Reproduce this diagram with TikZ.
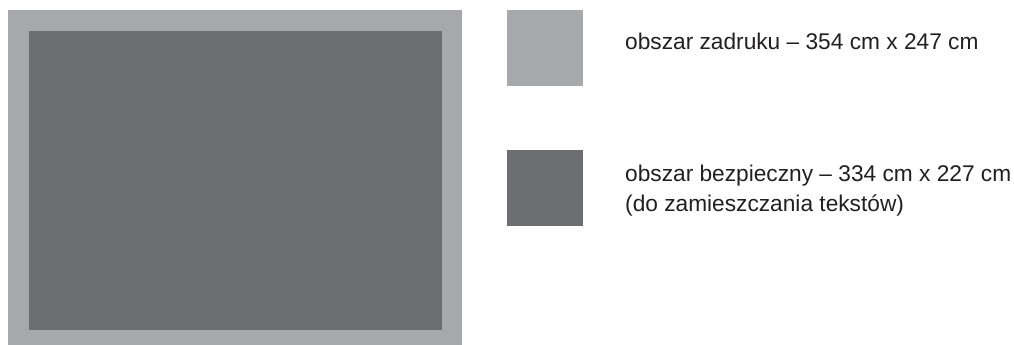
\documentclass[tikz,border=0pt]{standalone}
\usepackage{fontspec}
\setmainfont{Liberation Sans}
\usetikzlibrary{positioning}
\definecolor{printgray}{RGB}{167,168,172}
\definecolor{safegray}{RGB}{109,110,114}
\definecolor{textblack}{RGB}{35,31,32}
\tikzset{
  printarea/.style={fill=printgray, draw=none, inner sep=0pt},
  safearea/.style={fill=safegray, draw=none, inner sep=0pt},
  keybox/.style={minimum width=76pt, minimum height=76pt, inner sep=0pt},
  keytext/.style={anchor=base west, align=left, text=textblack, inner sep=0pt,
    font=\fontsize{22.7}{30}\selectfont}
}
\begin{document}
\begin{tikzpicture}[x=1pt, y=-1pt]
\useasboundingbox (0,0) rectangle (1014,345);
% plan
\node[printarea, minimum width=454pt, minimum height=335pt] (print) at (235,177.5) {};
\node[safearea, minimum width=413pt, minimum height=299pt] (safe) at (235.5,180.5) {};
% legend
\node[printarea, keybox] (keyprint) at (545,48) {};
\node[safearea, keybox] (keysafe) at (545,188) {};
\node[keytext] (lblprint) at (625,50) {obszar zadruku -- 354 cm x 247 cm};
\node[keytext] (lblsafe) at (625,211) {obszar bezpieczny -- 334 cm x 227 cm\\(do zamieszczania tekstów)};
\end{tikzpicture}
\end{document}
